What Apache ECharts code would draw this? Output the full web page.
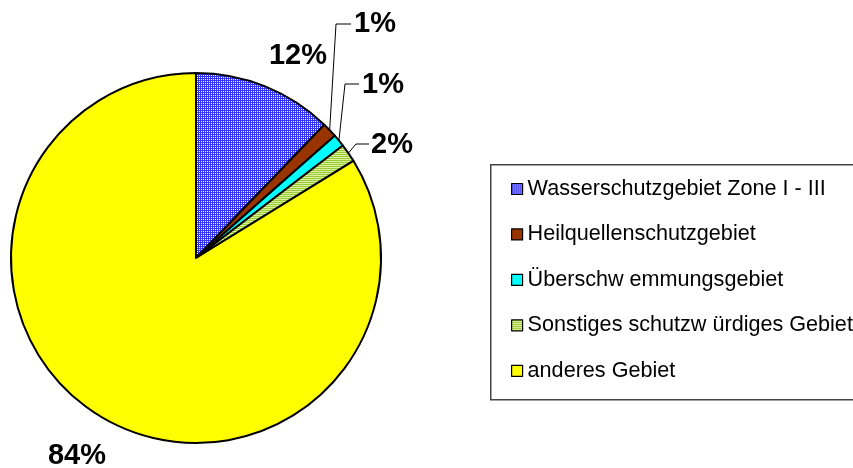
<!DOCTYPE html>
<html>
<head>
<meta charset="utf-8">
<script src="https://cdn.jsdelivr.net/npm/echarts@6/dist/echarts.min.js"></script>
<style>html,body{margin:0;padding:0;background:#fff}#c{width:853px;height:468px}</style>
</head>
<body>
<div id="c"></div>
<script>
var categories = ['Wasserschutzgebiet Zone I - III', 'Heilquellenschutzgebiet', 'Überschw emmungsgebiet', 'Sonstiges schutzw ürdiges Gebiet', 'anderes Gebiet'];
var values = [12.2, 1.3, 1.1, 1.6, 83.8];

// layout only (label anchor positions and leader-line elbows)
var labelPos = [[298, 56], [375, 24], [383, 85], [392, 145], [77, 456]];
var elbows = [null, [[336, 24], [351, 24]], [[345, 84], [359, 84]], [[356, 144], [369, 144]], null];
var center = [196, 258], radius = 185;

function pattern(w, h, draw) {
  var c = document.createElement('canvas'); c.width = w; c.height = h;
  var ctx = c.getContext('2d'); draw(ctx);
  return { image: c, repeat: 'repeat' };
}
var bluePat = pattern(2, 2, function (ctx) {
  ctx.fillStyle = '#3333ff'; ctx.fillRect(0, 0, 2, 2);
  ctx.fillStyle = '#ffffff'; ctx.fillRect(1, 1, 1, 1);
});
var greenPat = pattern(1, 2, function (ctx) {
  ctx.fillStyle = '#ddf0a0'; ctx.fillRect(0, 0, 1, 2);
  ctx.fillStyle = '#99cc33'; ctx.fillRect(0, 0, 1, 1);
});
var fills = [bluePat, '#993300', '#00ffff', greenPat, '#ffff00'];

var total = values.reduce(function (a, b) { return a + b; }, 0);
var cum = [];
(function () { var s = 0; values.forEach(function (v) { cum.push(s + v / 2); s += v; }); })();

var data = categories.map(function (n, i) {
  return {
    name: n, value: values[i],
    itemStyle: { color: fills[i] },
    labelLine: { show: !!elbows[i] }
  };
});

var chart = echarts.init(document.getElementById('c'), null, { renderer: 'canvas' });
chart.setOption({
  animation: false,
  backgroundColor: '#ffffff',
  graphic: [{
    type: 'rect', left: 490, top: 164, z: -1,
    shape: { width: 400, height: 235 },
    style: { fill: '#ffffff', stroke: '#444444', lineWidth: 1.5 }
  }],
  legend: {
    orient: 'vertical', left: 506, top: 173,
    itemWidth: 11, itemHeight: 11, itemGap: 23.45,
    icon: 'rect',
    itemStyle: { borderColor: '#000', borderWidth: 1.2 },
    textStyle: { fontFamily: 'Liberation Sans, Arial, sans-serif', fontSize: 21.6, color: '#000', lineHeight: 21 },
    selectedMode: false,
    data: categories
  },
  series: [{
    type: 'pie',
    center: center, radius: radius,
    startAngle: 90, clockwise: true,
    avoidLabelOverlap: false,
    itemStyle: { borderColor: '#000', borderWidth: 2 },
    label: {
      show: true, position: 'outside',
      formatter: function (p) { return Math.round(p.value / total * 100) + '%'; },
      fontFamily: 'Liberation Sans, Arial, sans-serif', fontWeight: 'bold', fontSize: 29, color: '#000'
    },
    labelLine: { show: true, lineStyle: { color: '#000', width: 1 } },
    labelLayout: function (p) {
      var i = p.dataIndex;
      var res = { x: labelPos[i][0], y: labelPos[i][1], align: 'center', verticalAlign: 'middle' };
      if (elbows[i]) {
        var a = cum[i] / total * 2 * Math.PI;
        var s = [center[0] + radius * Math.sin(a), center[1] - radius * Math.cos(a)];
        res.labelLinePoints = [s, elbows[i][0], elbows[i][1]];
      }
      return res;
    },
    emphasis: { disabled: true },
    data: data
  }]
});
</script>
</body>
</html>
